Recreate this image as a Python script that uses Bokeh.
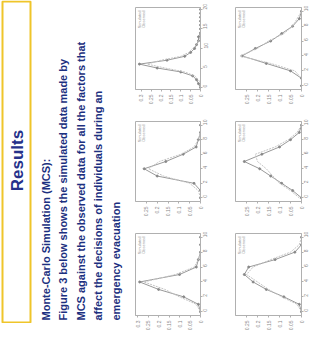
import math
from bokeh.plotting import figure
from bokeh.layouts import row, column
from bokeh.models import Range1d, Label, BoxAnnotation
from bokeh.embed import file_html
from bokeh.resources import INLINE

# ---------------- text content ----------------
section_title = "Results"
heading = "Monte-Carlo Simulation (MCS):"
body_lines = [
    "Figure 3 below shows the simulated data made by",
    "MCS against the observed data for all the factors that",
    "affect the decisions of individuals during an",
    "emergency evacuation",
]
legend_labels = ["Simulated", "Observed"]

# ---------------- chart data ----------------
tl_x = list(range(21))
tl_sim = [0.0, 0.01, 0.02, 0.04, 0.10, 0.22, 0.31, 0.17, 0.08, 0.05, 0.03,
          0.02, 0.01, 0.01, 0.0, 0.0, 0.0, 0.0, 0.0, 0.0, 0.0]
tl_obs = [0.0, 0.0, 0.01, 0.03, 0.08, 0.18, 0.27, 0.20, 0.10, 0.06, 0.04,
          0.02, 0.01, 0.0, 0.0, 0.0, 0.0, 0.0, 0.0, 0.0, 0.0]

tr_x = list(range(11))
tr_sim = [0.0, 0.0, 0.05, 0.16, 0.27, 0.21, 0.14, 0.09, 0.04, 0.01, 0.0]
tr_obs = [0.0, 0.0, 0.03, 0.14, 0.28, 0.20, 0.15, 0.08, 0.04, 0.02, 0.0]

ml_x = list(range(11))
ml_sim = [0.0, 0.0, 0.03, 0.20, 0.26, 0.16, 0.08, 0.02, 0.01, 0.0, 0.0]
ml_obs = [0.0, 0.01, 0.05, 0.17, 0.24, 0.19, 0.09, 0.03, 0.01, 0.0, 0.0]

mr_x = list(range(11))
mr_sim = [0.0, 0.04, 0.09, 0.14, 0.19, 0.26, 0.18, 0.10, 0.05, 0.01, 0.0]
mr_obs = [0.01, 0.05, 0.10, 0.13, 0.16, 0.20, 0.21, 0.12, 0.06, 0.02, 0.0]

bl_x = list(range(11))
bl_sim = [0.0, 0.01, 0.08, 0.20, 0.29, 0.10, 0.02, 0.01, 0.0, 0.0, 0.0]
bl_obs = [0.0, 0.02, 0.10, 0.17, 0.27, 0.12, 0.03, 0.01, 0.0, 0.0, 0.0]

br_x = list(range(11))
br_sim = [0.0, 0.01, 0.08, 0.16, 0.22, 0.26, 0.24, 0.12, 0.03, 0.0, 0.0]
br_obs = [0.0, 0.02, 0.09, 0.15, 0.20, 0.25, 0.22, 0.14, 0.05, 0.01, 0.0]

TEXT_BLUE = "#1c3080"
TITLE_BLUE = "#26318a"
GOLD = "#efc52a"
FONT = "Liberation Sans"

# ---------------- text panel ----------------
tp = figure(width=130, height=323, x_range=Range1d(0, 130), y_range=Range1d(0, 323),
            x_axis_type=None, y_axis_type=None, toolbar_location=None,
            output_backend="svg", min_border=0, outline_line_color=None)
tp.grid.visible = False
tp.add_layout(BoxAnnotation(left=2, right=30, bottom=1, top=322,
                            left_units="screen", right_units="screen",
                            bottom_units="screen", top_units="screen",
                            fill_alpha=0, line_color=GOLD, line_width=2, line_alpha=1))
tp.add_layout(Label(x=17, y=163, x_units="screen", y_units="screen", text=section_title,
                    angle=math.pi / 2, text_align="center", text_baseline="middle",
                    text_font=FONT, text_font_size="17px", text_font_style="bold",
                    text_color=TITLE_BLUE))
line_x = [45, 62.5, 80, 97.5, 115]
all_lines = [heading] + body_lines
for lx, txt in zip(line_x, all_lines):
    tp.add_layout(Label(x=lx, y=3, x_units="screen", y_units="screen", text=txt,
                        angle=math.pi / 2, text_align="left", text_baseline="middle",
                        text_font=FONT, text_font_size="11px", text_font_style="bold",
                        text_color=TEXT_BLUE))


# ---------------- small rotated charts ----------------
def make_chart(xs, sim, obs, vmax, fw, fh, bl, br, bt, bb):
    p = figure(frame_width=fw, frame_height=fh,
               x_range=Range1d(vmax, 0), y_range=Range1d(xs[0] - 0.5, xs[-1] + 0.5),
               x_axis_location="below", y_axis_location="right",
               toolbar_location=None, output_backend="svg",
               min_border_left=bl, min_border_right=br, min_border_top=bt,
               min_border_bottom=bb, outline_line_color="#b0b0b0",
               background_fill_color="white")
    p.grid.visible = False
    for ax in (p.xaxis[0], p.yaxis[0]):
        ax.major_label_orientation = math.pi / 2
        ax.major_label_text_font_size = "5px"
        ax.major_label_text_color = "#8a8a8a"
        ax.major_label_standoff = 1
        ax.axis_line_color = "#b0b0b0"
        ax.major_tick_line_color = "#b0b0b0"
        ax.major_tick_out = 2
        ax.major_tick_in = 0
        ax.minor_tick_line_color = None
    p.xaxis[0].ticker.desired_num_ticks = 5
    p.yaxis[0].ticker.desired_num_ticks = 6
    p.line(x=sim, y=xs, line_color="#999999", line_width=1)
    p.scatter(x=sim, y=xs, size=2, color="#888888")
    p.line(x=obs, y=xs, line_color="#c4c4c4", line_width=1, line_dash="2 1")
    for i, lab in enumerate(legend_labels):
        p.add_layout(Label(x=4 + 4 * i, y=fh - 3, x_units="screen", y_units="screen",
                           text=lab, angle=math.pi / 2, text_align="right",
                           text_baseline="middle", text_font=FONT,
                           text_font_size="4px", text_color="#9a9a9a"))
    return p


tl = make_chart(tl_x, tl_sim, tl_obs, 0.33, 65, 82, 5, 20, 7, 15)
tr = make_chart(tr_x, tr_sim, tr_obs, 0.30, 66, 82, 15, 10, 7, 15)
ml = make_chart(ml_x, ml_sim, ml_obs, 0.30, 65, 80, 5, 20, 14, 13)
mr = make_chart(mr_x, mr_sim, mr_obs, 0.30, 66, 80, 15, 10, 14, 13)
bl = make_chart(bl_x, bl_sim, bl_obs, 0.31, 65, 82, 5, 20, 14, 16)
br = make_chart(br_x, br_sim, br_obs, 0.30, 66, 82, 15, 10, 14, 16)

charts = column(row(tl, tr), row(ml, mr), row(bl, br))
layout = row(tp, charts)

open("out.html", "w").write(file_html(layout, INLINE))
